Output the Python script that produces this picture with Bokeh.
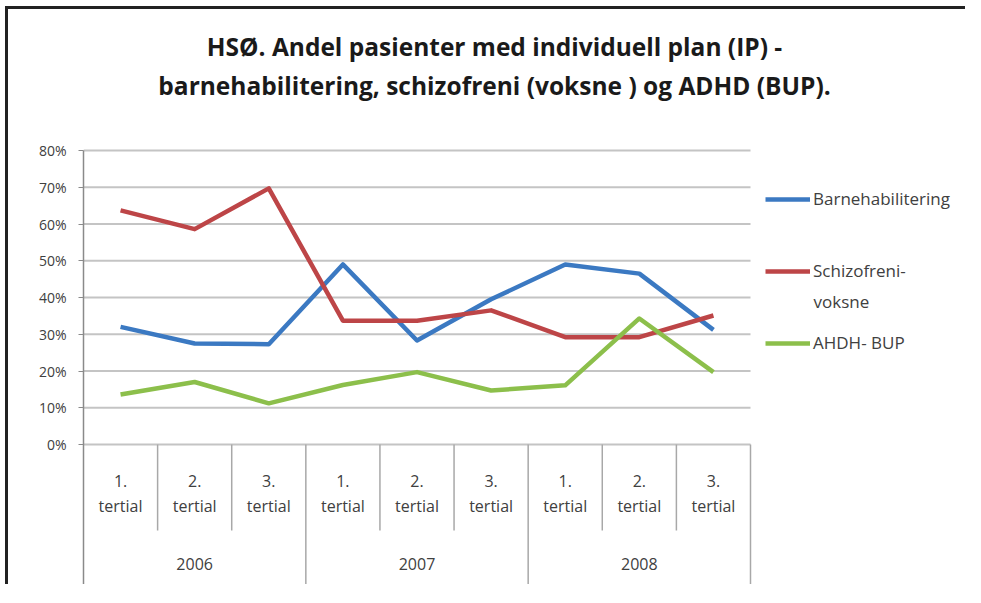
from bokeh.plotting import figure
from bokeh.models import (Range1d, FixedTicker, NumeralTickFormatter, Label,
                          Legend, LegendItem)
from bokeh.core.properties import value
from bokeh.embed import file_html
from bokeh.resources import INLINE

# ---- data ----
years = ["2006", "2007", "2008"]
tertial_nums = ["1.", "2.", "3.", "1.", "2.", "3.", "1.", "2.", "3."]
tertial_word = ["tertial"] * 9
barnehab = [0.32, 0.275, 0.273, 0.49, 0.283, 0.395, 0.49, 0.465, 0.312]
schizo = [0.637, 0.586, 0.697, 0.337, 0.337, 0.365, 0.292, 0.292, 0.351]
adhd = [0.136, 0.17, 0.112, 0.162, 0.197, 0.147, 0.161, 0.343, 0.197]
y_ticks = [0, 0.1, 0.2, 0.3, 0.4, 0.5, 0.6, 0.7, 0.8]
title_lines = ["HSØ. Andel pasienter med individuell plan (IP) -",
               "barnehabilitering, schizofreni (voksne ) og ADHD (BUP)."]
series_names = ["Barnehabilitering", "Schizofreni-", "AHDH- BUP"]
series_name_cont = "voksne"

FONT = "Open Sans"
TXT = "#404040"
BLUE, RED, GREEN = "#3b79c2", "#bd4547", "#8cbf4b"

n = len(barnehab)
xs = [i + 0.5 for i in range(n)]

# canvas placed at page (8, 9); frame spans canvas x 75..W, y 0..H
W, H = 965, 584
PX_Y = 367.5          # pixels per unit (y)
PX_X = 667 / 9.0      # pixels per category (x)
Y0 = 444              # page y of 0 %
X0 = 83               # page x of category axis start
y_start = (Y0 - (9 + H)) / PX_Y
y_end = (Y0 - 9) / PX_Y
x_end = (8 + W - X0) / PX_X

p = figure(width=W, height=H, output_backend="svg", toolbar_location=None,
           x_range=Range1d(0, x_end), y_range=Range1d(y_start, y_end),
           x_axis_location=None, min_border_left=75, min_border_right=0,
           min_border_top=0, min_border_bottom=0)
p.outline_line_color = None
p.background_fill_color = "white"
p.border_fill_color = "white"
p.xgrid.visible = False
p.ygrid.visible = False

y_bottom = (Y0 - 590) / PX_Y
y_short = (Y0 - 530) / PX_Y

ax = p.yaxis[0]
ax.bounds = (y_bottom, 0.8)
ax.ticker = FixedTicker(ticks=y_ticks)
ax.formatter = NumeralTickFormatter(format="0%")
ax.axis_line_color = "#8a8a8a"
ax.axis_line_width = 1.5
ax.major_tick_line_color = "#8a8a8a"
ax.major_tick_in = 0
ax.major_tick_out = 5
ax.minor_tick_line_color = None
ax.major_label_text_font = FONT
ax.major_label_text_font_size = "14px"
ax.major_label_text_color = TXT
ax.major_label_standoff = 12

# horizontal gridlines across the 9 categories
p.segment(x0=[0] * len(y_ticks), y0=y_ticks, x1=[n] * len(y_ticks), y1=y_ticks,
          line_color="#c4c4c4", line_width=2)

# category separators
short_x = [1, 2, 4, 5, 7, 8]
long_x = [3, 6, 9]
p.segment(x0=short_x, y0=[0] * len(short_x), x1=short_x, y1=[y_short] * len(short_x),
          line_color="#a8a8a8", line_width=1.5)
p.segment(x0=long_x, y0=[0] * len(long_x), x1=long_x, y1=[y_bottom] * len(long_x),
          line_color="#a8a8a8", line_width=1.5)

# category labels
p.text(x=xs, y=[(Y0 - 480) / PX_Y] * n, text=tertial_nums, text_font=value(FONT),
       text_font_size="16px", text_color=TXT, text_align="center", text_baseline="middle")
p.text(x=xs, y=[(Y0 - 505) / PX_Y] * n, text=tertial_word, text_font=value(FONT),
       text_font_size="16px", text_color=TXT, text_align="center", text_baseline="middle")
p.text(x=[1.5, 4.5, 7.5], y=[(Y0 - 563) / PX_Y] * 3, text=years, text_font=value(FONT),
       text_font_size="16px", text_color=TXT, text_align="center", text_baseline="middle")

# series
r1 = p.line(xs, barnehab, line_color=BLUE, line_width=4.5, line_join="round")
r2 = p.line(xs, schizo, line_color=RED, line_width=4.5, line_join="round")
r3 = p.line(xs, adhd, line_color=GREEN, line_width=4.5, line_join="round")

FB = 9 + H  # page y of frame bottom
legend = Legend(items=[LegendItem(label=series_names[0], renderers=[r1]),
                       LegendItem(label=series_names[1], renderers=[r2]),
                       LegendItem(label=series_names[2], renderers=[r3])],
                location=(765 - X0, FB - 354), orientation="vertical",
                label_text_font=FONT, label_text_font_size="17px",
                label_text_color=TXT, glyph_width=45, glyph_height=20,
                label_height=20, spacing=49, padding=0, margin=0,
                label_standoff=3, border_line_color=None,
                background_fill_alpha=0)
p.add_layout(legend, "center")
p.add_layout(Label(x=813 - X0, y=FB - 301, x_units="screen", y_units="screen",
                   text=series_name_cont, text_font=FONT, text_font_size="17px",
                   text_color=TXT, text_baseline="middle"))

# title
for t, yy in zip(title_lines, [46, 85]):
    p.add_layout(Label(x=494 - X0, y=FB - yy, x_units="screen", y_units="screen", text=t,
                       text_font=FONT, text_font_size="24.5px", text_font_style="bold",
                       text_color="#1a1a1a", text_align="center", text_baseline="middle"))

# dark frame on the top and left edges of the picture (drawn in the padding)
p.styles = {
    "padding": "9px 0 0 8px",
    "background": ("linear-gradient(#222222, #222222) 5px 6px / 100% 3px no-repeat, "
                   "linear-gradient(#222222, #222222) 5px 6px / 3px 100% no-repeat, "
                   "white"),
}

open("out.html", "w").write(file_html(p, INLINE))
